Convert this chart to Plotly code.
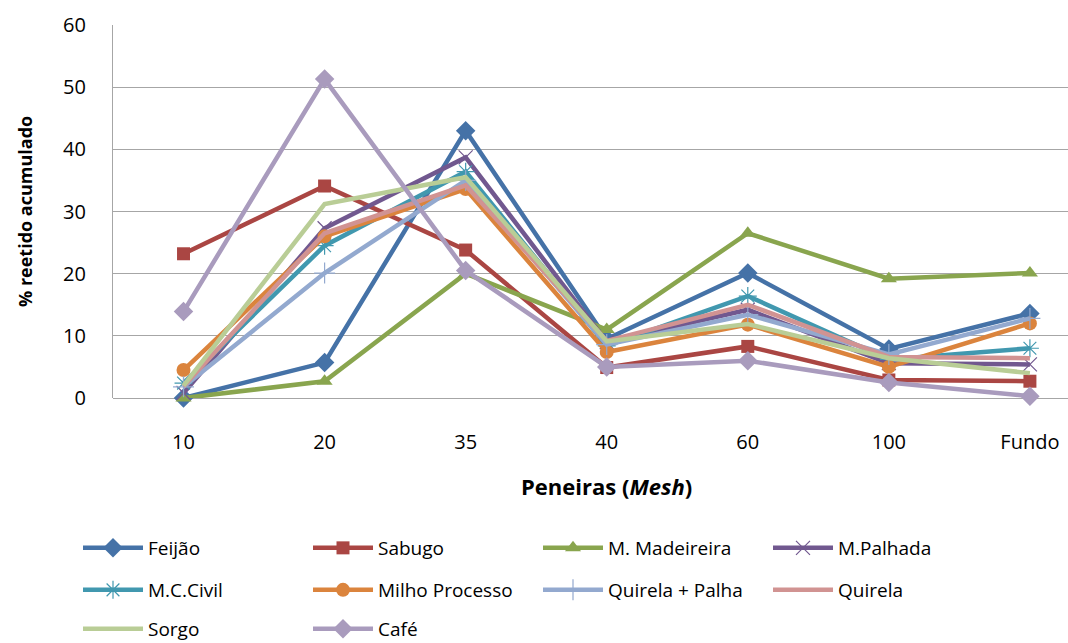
import plotly.graph_objects as go

# Sieve openings (mesh) and cumulative retained percentage per material
peneiras = ["10", "20", "35", "40", "60", "100", "Fundo"]

feijao = [0.0, 5.7, 43.0, 9.5, 20.1, 7.9, 13.6]
sabugo = [23.2, 34.1, 23.8, 4.9, 8.3, 2.9, 2.7]
madeireira = [0.0, 2.7, 20.0, 11.0, 26.5, 19.2, 20.1]
palhada = [0.8, 27.3, 38.7, 9.0, 14.2, 5.6, 5.4]
mccivil = [2.4, 24.5, 36.4, 8.4, 16.4, 6.2, 8.0]
milho = [4.5, 26.0, 33.6, 7.4, 11.8, 5.0, 12.0]
quirela_palha = [1.8, 20.1, 35.0, 8.6, 13.4, 7.0, 12.8]
quirela = [1.9, 26.5, 34.2, 9.2, 15.0, 6.6, 6.4]
sorgo = [2.0, 31.2, 35.5, 9.1, 11.9, 6.4, 4.0]
cafe = [13.9, 51.3, 20.5, 5.0, 6.0, 2.5, 0.3]

series = [
    ("Feijão", feijao, "#4572A7", "diamond", 15, "legend"),
    ("Sabugo", sabugo, "#AA4643", "square", 13, "legend"),
    ("M. Madeireira", madeireira, "#89A54E", "triangle-up", 14, "legend"),
    ("M.Palhada", palhada, "#71588F", "x-thin-open", 14, "legend"),
    ("M.C.Civil", mccivil, "#4198AF", "asterisk-open", 15, "legend2"),
    ("Milho Processo", milho, "#DB843D", "circle", 14, "legend2"),
    ("Quirela + Palha", quirela_palha, "#93A9CF", "cross-thin-open", 15, "legend2"),
    ("Quirela", quirela, "#D19392", None, 0, "legend2"),
    ("Sorgo", sorgo, "#B9CD96", None, 0, "legend3"),
    ("Café", cafe, "#A99BBD", "diamond", 15, "legend3"),
]

FONT = "Open Sans"

fig = go.Figure()
for name, vals, color, symbol, size, leg in series:
    if symbol is None:
        mode = "lines"
        marker = None
    else:
        mode = "lines+markers"
        thin = symbol.endswith("-open")
        marker = dict(symbol=symbol, size=size, color=color,
                      line=dict(color=color, width=1.2 if thin else 0))
    fig.add_trace(go.Scatter(
        x=peneiras, y=vals, name=name, mode=mode,
        line=dict(color=color, width=4.5),
        marker=marker, legend=leg, cliponaxis=False,
    ))

W, H = 1068, 643
L, T, R_PX, B_PX = 113, 25, 1068, 398
pw, ph = R_PX - L, B_PX - T


def px(x):
    return (x - L) / pw


def py(y):
    return (B_PX - y) / ph


legend_common = dict(
    orientation="h", entrywidth=155, entrywidthmode="pixels",
    xanchor="left", yanchor="middle", x=px(78),
    font=dict(family=FONT, size=19, color="#000000"),
    bgcolor="rgba(0,0,0,0)", borderwidth=0, itemwidth=60,
    traceorder="normal",
)

fig.update_layout(
    width=W, height=H,
    margin=dict(l=L, r=W - R_PX, t=T, b=H - B_PX, autoexpand=False),
    paper_bgcolor="white", plot_bgcolor="white",
    font=dict(family=FONT, color="#000000"),
    legend=dict(legend_common, y=py(548)),
    legend2=dict(legend_common, y=py(590)),
    legend3=dict(legend_common, y=py(629)),
    xaxis=dict(
        type="category", range=[-0.5, 6.27],
        showgrid=False, showline=False, zeroline=False, ticks="",
        tickfont=dict(family=FONT, size=20, color="#000000"),
        ticklabelstandoff=30,
    ),
    yaxis=dict(
        range=[0, 60], dtick=10, tick0=0,
        showgrid=True, gridcolor="#A6A6A6", gridwidth=1.2,
        showline=True, linecolor="#A6A6A6", linewidth=1.2,
        zeroline=True, zerolinecolor="#A6A6A6", zerolinewidth=1.2,
        ticks="", tickfont=dict(family=FONT, size=20, color="#000000"),
        ticklabelstandoff=22,
    ),
    annotations=[
        dict(text="<b>Peneiras (<i>Mesh</i>)</b>", xref="paper", yref="paper",
             x=px(606), y=py(486), showarrow=False,
             font=dict(family=FONT, size=22, color="#000000"),
             xanchor="center", yanchor="middle"),
        dict(text="<b>% reetido acumulado</b>", xref="paper", yref="paper",
             x=px(25), y=py(212), showarrow=False, textangle=-90,
             font=dict(family=FONT, size=18, color="#000000"),
             xanchor="center", yanchor="middle"),
    ],
)

fig.write_html("out.html")
